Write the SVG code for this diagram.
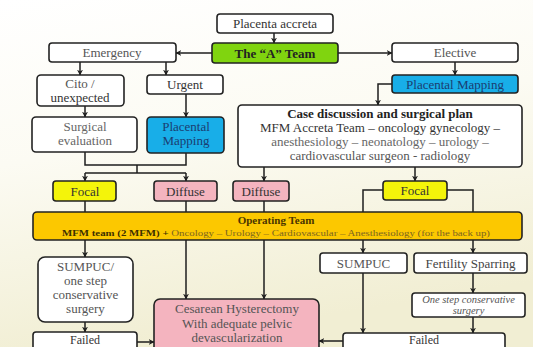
<svg xmlns="http://www.w3.org/2000/svg" width="533" height="347" viewBox="0 0 533 347" font-family="'Liberation Serif', 'DejaVu Serif', serif">
<defs>
<linearGradient id="bg" x1="0" y1="0" x2="0.25" y2="1">
<stop offset="0" stop-color="#ffffff"/>
<stop offset="0.45" stop-color="#fcfbf3"/>
<stop offset="1" stop-color="#f1eed3"/>
</linearGradient>
<marker id="ah" viewBox="0 0 10 10" refX="9" refY="5" markerWidth="6" markerHeight="6" orient="auto" markerUnits="userSpaceOnUse">
<path d="M0,0 L10,5 L0,10 L3,5 Z" fill="#1e1e1e"/>
</marker>
</defs>
<style>
.b{stroke:#222;stroke-width:1.6;}
.w{fill:#fff;}
.g{fill:#80d40f;}
.bl{fill:#18aee8;}
.y{fill:#f4f40a;}
.p{fill:#f4b4bf;}
.o{fill:#fcc800;}
text{font-family:'Liberation Serif','DejaVu Serif',serif;font-size:13px;fill:#333;text-anchor:middle;}
.dk{fill:#222;}
.nv{fill:#1b3d70;}
.bd{font-weight:bold;}
.sm{font-size:10.5px;}
.c line,.c path{stroke:#1e1e1e;stroke-width:1.5;fill:none;}
</style>
<rect width="533" height="347" fill="url(#bg)"/>

<g class="c" id="connectors">
<line x1="274" y1="33" x2="274" y2="43" marker-end="url(#ah)"/>
<line x1="212" y1="53" x2="176" y2="53" marker-end="url(#ah)"/>
<line x1="338" y1="53" x2="392" y2="53" marker-end="url(#ah)"/>
<line x1="80" y1="62" x2="80" y2="75" marker-end="url(#ah)"/>
<line x1="166" y1="62" x2="166" y2="75" marker-end="url(#ah)"/>
<line x1="455" y1="62" x2="455" y2="75" marker-end="url(#ah)"/>
<path d="M392,84 H378 V105" marker-end="url(#ah)"/>
<line x1="85" y1="106" x2="85" y2="117" marker-end="url(#ah)"/>
<line x1="186" y1="94" x2="186" y2="117" marker-end="url(#ah)"/>
<path d="M85,152 V165 H186 V153"/>
<path d="M137,165 V173"/>
<path d="M85,173 H186"/>
<line x1="85" y1="173" x2="85" y2="181" marker-end="url(#ah)"/>
<line x1="186" y1="173" x2="186" y2="181" marker-end="url(#ah)"/>
<line x1="264" y1="167" x2="264" y2="181" marker-end="url(#ah)"/>
<line x1="415" y1="167" x2="415" y2="181" marker-end="url(#ah)"/>
<line x1="85" y1="201" x2="85" y2="212"/>
<line x1="186" y1="201" x2="186" y2="212"/>
<line x1="264" y1="201" x2="264" y2="212"/>
<path d="M383,190 H363 V212"/>
<path d="M447,190 H473 V212"/>
<line x1="85" y1="240" x2="85" y2="257" marker-end="url(#ah)"/>
<line x1="186" y1="240" x2="186" y2="299" marker-end="url(#ah)"/>
<line x1="264" y1="240" x2="264" y2="299" marker-end="url(#ah)"/>
<line x1="363" y1="240" x2="363" y2="253" marker-end="url(#ah)"/>
<line x1="473" y1="240" x2="473" y2="253" marker-end="url(#ah)"/>
<line x1="85" y1="322" x2="85" y2="332" marker-end="url(#ah)"/>
<line x1="137" y1="342" x2="154" y2="342" marker-end="url(#ah)"/>
<line x1="363" y1="273" x2="363" y2="333" marker-end="url(#ah)"/>
<line x1="473" y1="273" x2="473" y2="293" marker-end="url(#ah)"/>
<line x1="473" y1="317" x2="473" y2="333" marker-end="url(#ah)"/>
<line x1="343" y1="341" x2="319" y2="341" marker-end="url(#ah)"/>
</g>

<g id="placenta-accreta"><rect class="b w" x="217" y="14" width="116" height="19" rx="3"/><text x="275" y="28">Placenta accreta</text></g>
<g id="a-team"><rect class="b g" x="212" y="43" width="126" height="20" rx="3"/><text class="dk bd" x="275" y="57.5">The “A” Team</text></g>
<g id="emergency"><rect class="b w" x="49" y="43" width="127" height="19" rx="3"/><text x="112" y="57" style="fill:#555">Emergency</text></g>
<g id="elective"><rect class="b w" x="392" y="43" width="126" height="19" rx="3"/><text x="455" y="57" style="fill:#555">Elective</text></g>
<g id="cito"><rect class="b w" x="37" y="75" width="87" height="31" rx="4"/><text x="80" y="88" style="fill:#555">Cito /</text><text x="80" y="102">unexpected</text></g>
<g id="urgent"><rect class="b w" x="147" y="75" width="76" height="19" rx="3"/><text x="185" y="89">Urgent</text></g>
<g id="placental-mapping-r"><rect class="b bl" x="392" y="75" width="126" height="18" rx="3"/><text class="nv" x="455" y="88.5">Placental Mapping</text></g>
<g id="case-discussion"><rect class="b w" x="238" y="105" width="284" height="62" rx="4"/>
<text class="dk bd" x="380" y="118">Case discussion and surgical plan</text>
<text x="380" y="132">MFM Accreta Team – oncology gynecology –</text>
<text x="380" y="146" style="fill:#666">anesthesiology – neonatology – urology –</text>
<text x="380" y="160" style="fill:#555">cardiovascular surgeon - radiology</text></g>
<g id="surgical-evaluation"><rect class="b w" x="32" y="117" width="105" height="35" rx="4"/><text x="85" y="131" style="fill:#666">Surgical</text><text x="85" y="145" style="fill:#666">evaluation</text></g>
<g id="placental-mapping-l"><rect class="b bl" x="147" y="117" width="77" height="36" rx="4"/><text class="nv" x="186" y="131">Placental</text><text class="nv" x="186" y="145">Mapping</text></g>
<g id="focal-l"><rect class="b y" x="53" y="181" width="63" height="20" rx="3"/><text x="85" y="195.5">Focal</text></g>
<g id="diffuse-l"><rect class="b p" x="154" y="181" width="63" height="20" rx="3"/><text x="185.5" y="195.5">Diffuse</text></g>
<g id="diffuse-m"><rect class="b p" x="233" y="181" width="56" height="20" rx="3"/><text x="261" y="195.5">Diffuse</text></g>
<g id="focal-r"><rect class="b y" x="383" y="181" width="64" height="19" rx="3"/><text x="415" y="195">Focal</text></g>
<g id="operating-team"><rect class="b o" x="33" y="212" width="489" height="28" rx="4"/>
<text class="bd" x="276" y="224" style="fill:#4a3500;font-size:11px">Operating Team</text>
<text x="276" y="236" textLength="428" lengthAdjust="spacingAndGlyphs" style="font-size:9px;fill:#7a6420"><tspan class="bd" style="fill:#3d3000">MFM team (2 MFM) +</tspan> Oncology – Urology – Cardiovascular – Anesthesiology (for the back up)</text></g>
<g id="sumpuc-l"><rect class="b w" x="38" y="257" width="95" height="65" rx="7"/>
<text x="85.5" y="271" style="fill:#555">SUMPUC/</text><text x="85.5" y="285" style="fill:#555">one step</text><text x="85.5" y="299" style="fill:#555">conservative</text><text x="85.5" y="313" style="fill:#555">surgery</text></g>
<g id="cesarean"><rect class="b p" x="154" y="299" width="165" height="60" rx="6"/>
<text x="237" y="313" style="fill:#555">Cesarean Hysterectomy</text><text x="237" y="328" style="fill:#555">With adequate pelvic</text><text x="237" y="342" style="fill:#555">devascularization</text></g>
<g id="failed-l"><rect class="b w" x="33" y="332" width="104" height="30" rx="3"/><text x="85" y="343.5" style="font-size:12px">Failed</text></g>
<g id="sumpuc-r"><rect class="b w" x="320" y="253" width="87" height="20" rx="3"/><text x="363.5" y="267.5" style="fill:#555">SUMPUC</text></g>
<g id="fertility-sparring"><rect class="b w" x="414" y="253" width="113" height="20" rx="3"/><text x="470.5" y="267.5" style="fill:#444">Fertility Sparring</text></g>
<g id="one-step"><rect class="b w" x="412" y="293" width="113" height="24" rx="3"/><text class="sm" x="468.5" y="303" style="font-style:italic;fill:#555">One step conservative</text><text class="sm" x="468.5" y="313.5" style="font-style:italic;fill:#555">surgery</text></g>
<g id="failed-r"><rect class="b w" x="343" y="333" width="162" height="30" rx="3"/><text x="424" y="344" style="font-size:12px">Failed</text></g>
</svg>
